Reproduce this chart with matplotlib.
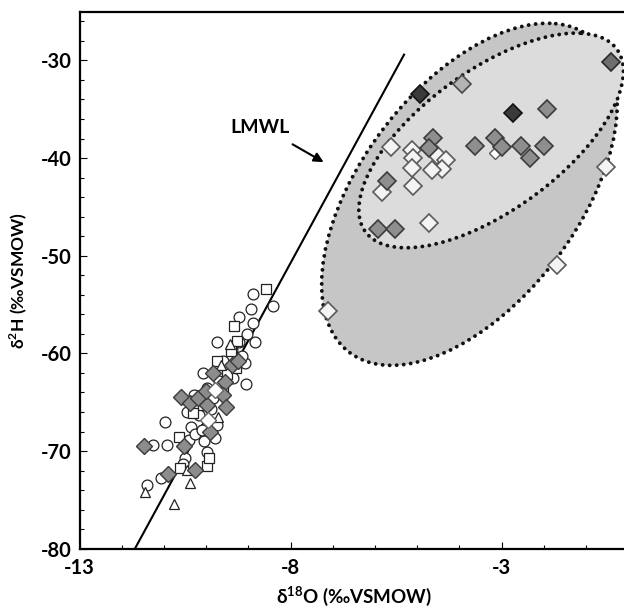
import numpy as np
import matplotlib
matplotlib.use("Agg")
import matplotlib.pyplot as plt
from matplotlib.patches import Ellipse
from matplotlib.ticker import MultipleLocator, FixedLocator

plt.rcParams['font.family'] = ['Lato', 'DejaVu Sans']
plt.rcParams['mathtext.fontset'] = 'custom'
plt.rcParams['mathtext.rm'] = 'Lato'
plt.rcParams['mathtext.bf'] = 'Lato:bold'
plt.rcParams['axes.unicode_minus'] = False

# ---- data ----
circ_x = [-8.90, -8.42, -8.94, -9.23, -8.90, -9.75, -8.85, -9.04, -9.07, -10.08, -9.37, -9.06, -9.72,
          -10.97, -11.25, -10.92, -11.40, -11.07, -10.41, -10.50, -9.98, -9.79, -10.36, -10.17, -10.28,
          -9.98, -9.46, -9.60, -9.23, -9.89, -9.75, -10.26, -10.05, -9.40, -9.70, -10.45, -9.15, -9.85,
          -10.10, -10.55]
circ_y = [-53.9, -55.1, -55.5, -56.3, -56.9, -58.8, -58.8, -58.0, -61.0, -62.0, -62.5, -63.1, -63.5,
          -67.0, -69.4, -69.4, -73.5, -72.8, -68.9, -70.7, -70.1, -68.7, -67.5, -66.3, -64.3,
          -63.5, -61.3, -60.8, -58.8, -65.7, -67.3, -68.3, -69.0, -59.7, -62.8, -66.0, -60.3, -64.6,
          -67.8, -71.3]
sq_x = [-8.59, -9.34, -9.26, -9.42, -9.75, -9.51, -10.08, -10.31, -10.64, -10.62, -9.98, -9.93, -9.60, -9.30]
sq_y = [-53.4, -57.2, -58.7, -59.8, -60.8, -62.1, -65.3, -66.1, -68.6, -71.7, -71.5, -70.7, -64.0, -61.5]
tri_x = [-11.46, -10.77, -10.38, -9.72, -9.44, -9.65, -10.45]
tri_y = [-74.2, -75.4, -73.3, -66.5, -59.0, -61.2, -71.9]
gd_x = [-11.47, -10.91, -10.59, -10.38, -10.20, -9.98, -10.53, -10.26, -9.84, -9.56, -9.40, -9.60,
        -9.53, -9.91, -10.00, -9.25]
gd_y = [-69.5, -72.3, -64.5, -65.1, -64.6, -65.3, -69.5, -71.9, -62.0, -62.9, -61.2, -64.3,
        -65.5, -68.1, -63.9, -60.8]
wdc_x = [-9.79, -9.95]
wdc_y = [-63.7, -66.8]

dark_x = [-4.93, -2.72]
dark_y = [-33.4, -35.4]
mdark_x = [-0.41]
mdark_y = [-30.2]
light_x = [-3.94]
light_y = [-32.4]
med_x = [-1.92, -4.63, -4.72, -3.64, -3.15, -2.99, -2.53, -1.99, -2.32, -5.72, -5.93, -5.53]
med_y = [-35.0, -37.9, -39.0, -38.8, -37.9, -38.9, -38.8, -38.8, -40.0, -42.3, -47.3, -47.3]
wht_x = [-5.63, -5.13, -5.11, -5.13, -4.54, -4.32, -4.42, -4.65, -5.83, -5.11, -4.72, -0.52, -1.68, -7.11]
wht_y = [-38.9, -39.2, -40.0, -41.0, -39.7, -40.2, -41.1, -41.2, -43.5, -42.9, -46.7, -40.9, -51.0, -55.7]
small_x = [-3.15]
small_y = [-39.5]

lmwl_x = [-11.69, -5.31]
lmwl_slope, lmwl_icpt = 7.93, 12.7

# envelopes: centre (x, y), width, height, angle (data units)
outer_env = ((-3.761, -43.712), 5.919, 35.226, 173.80)
inner_env = ((-3.247, -38.195), 4.718, 22.366, 169.11)

fig = plt.figure(figsize=(6.24, 6.08), dpi=100)
ax = fig.add_axes([0.1276, 0.0975, 0.879, 0.8835])

dots = (0, (0.01, 1.8))
(oc, ow, oh, oa) = outer_env
(ic, iw, ih, ia) = inner_env
ax.add_patch(Ellipse(oc, ow, oh, angle=oa, facecolor='#c6c6c6', edgecolor='#111111',
                     lw=2.8, ls=dots, capstyle='round', zorder=1))
ax.add_patch(Ellipse(ic, iw, ih, angle=ia, facecolor='#dcdcdc', edgecolor='#111111',
                     lw=2.8, ls=dots, capstyle='round', zorder=2))

xs = np.array(lmwl_x)
ax.plot(xs, lmwl_slope * xs + lmwl_icpt, color='black', lw=1.5, zorder=3)

ax.plot(circ_x, circ_y, 'o', ms=7.8, mfc='white', mec='#222222', mew=0.9, ls='none', zorder=4)
ax.plot(sq_x, sq_y, 's', ms=6.8, mfc='white', mec='#222222', mew=0.9, ls='none', zorder=4)
ax.plot(tri_x, tri_y, '^', ms=7, mfc='white', mec='#222222', mew=0.9, ls='none', zorder=4)
ax.plot(gd_x, gd_y, 'D', ms=8, mfc='#8c8c8c', mec='#3a3a3a', mew=1.0, ls='none', zorder=5)
ax.plot(wdc_x, wdc_y, 'D', ms=8, mfc='white', mec='#666666', mew=1.0, ls='none', zorder=5)

ax.plot(wht_x, wht_y, 'D', ms=9, mfc='#f4f4f4', mec='#5a5a5a', mew=1.2, ls='none', zorder=5)
ax.plot(small_x, small_y, 'D', ms=6, mfc='white', mec='#5a5a5a', mew=1.0, ls='none', zorder=5)
ax.plot(med_x, med_y, 'D', ms=9, mfc='#8e8e8e', mec='#3c3c3c', mew=1.2, ls='none', zorder=6)
ax.plot(light_x, light_y, 'D', ms=9, mfc='#b4b4b4', mec='#4a4a4a', mew=1.2, ls='none', zorder=6)
ax.plot(mdark_x, mdark_y, 'D', ms=9, mfc='#6e6e6e', mec='#2a2a2a', mew=1.2, ls='none', zorder=6)
ax.plot(dark_x, dark_y, 'D', ms=9, mfc='#3a3a3a', mec='#111111', mew=1.2, ls='none', zorder=6)

ax.annotate('', xy=(-7.16, -40.56), xytext=(-8.01, -38.45),
            arrowprops=dict(arrowstyle='-|>', color='black', lw=1.5, mutation_scale=14))
ax.text(-8.72, -36.9, 'LMWL', ha='center', va='center', fontsize=14, fontweight='bold')

ax.set_xlim(-13, 0)
ax.set_ylim(-80, -25)
ax.xaxis.set_major_locator(FixedLocator([-13, -8, -3]))
ax.xaxis.set_minor_locator(MultipleLocator(1))
ax.yaxis.set_major_locator(MultipleLocator(10))
ax.yaxis.set_minor_locator(MultipleLocator(2))
ax.tick_params(which='both', direction='in', labelsize=14.5, width=0.8)
ax.tick_params(axis='x', which='major', pad=7)
ax.tick_params(axis='y', which='major', pad=6)
ax.tick_params(which='major', length=5)
ax.tick_params(which='minor', length=3)
for lab in ax.get_xticklabels() + ax.get_yticklabels():
    lab.set_fontweight('bold')
for s in ax.spines.values():
    s.set_linewidth(1.6)
ax.set_xlabel(r'δ$^{\mathbf{18}}$O (‰VSMOW)', fontsize=13.5, fontweight='bold', labelpad=4)
ax.set_ylabel(r'δ$^{\mathbf{2}}$H (‰VSMOW)', fontsize=12.5, fontweight='bold', labelpad=8)

fig.savefig('out.png', dpi=100)
